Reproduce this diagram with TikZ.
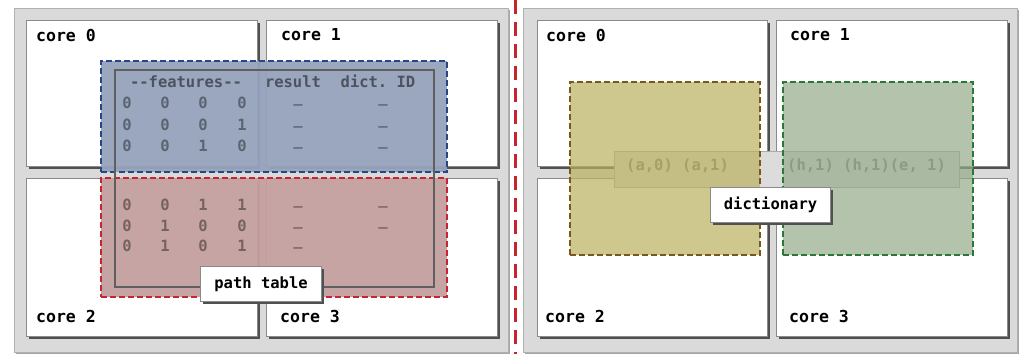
\documentclass[tikz,border=0pt]{standalone}
\usepackage{fontspec}
\setmonofont{DejaVu Sans Mono}
\usetikzlibrary{shadows}

\definecolor{panelfill}{RGB}{218,218,218}
\definecolor{paneldraw}{RGB}{176,176,176}
\definecolor{coredraw}{RGB}{138,138,138}
\definecolor{shadowc}{RGB}{80,80,80}
\definecolor{bluefill}{RGB}{149,163,187}
\definecolor{blueline}{RGB}{40,70,135}
\definecolor{redfill}{RGB}{197,160,160}
\definecolor{redline}{RGB}{200,35,50}
\definecolor{yelfill}{RGB}{186,176,95}
\definecolor{yelline}{RGB}{120,88,30}
\definecolor{grnfill}{RGB}{149,171,138}
\definecolor{grnline}{RGB}{40,120,55}
\definecolor{divider}{RGB}{198,36,46}
\definecolor{tabline}{RGB}{95,95,95}
\definecolor{barfill}{RGB}{220,220,220}
\definecolor{bardraw}{RGB}{170,170,170}
\definecolor{bartextc}{RGB}{120,120,120}

\tikzset{
  mono/.style={font=\ttfamily\bfseries\fontsize{15.5}{16}\selectfont, inner sep=0pt},
  panel/.style={draw=paneldraw, fill=panelfill, line width=1.2pt, anchor=north west, inner sep=0pt,
    drop shadow={shadow xshift=1.5pt, shadow yshift=-1.5pt, fill=black!35, opacity=1}},
  corebox/.style={draw=coredraw, fill=white, line width=1.2pt, anchor=north west, inner sep=0pt,
    minimum width=231pt, minimum height=146pt,
    drop shadow={shadow xshift=2.5pt, shadow yshift=-2.5pt, fill=shadowc, opacity=1}},
  corelabel/.style={font=\ttfamily\bfseries\fontsize{16.5}{17}\selectfont, inner sep=0pt, anchor=west, text=black},
  overlay/.style={dashed, dash pattern=on 6pt off 3pt, line width=1.5pt, anchor=north west, inner sep=0pt},
  cell/.style={mono, anchor=base, text=black, text opacity=0.4},
  tag/.style={draw=coredraw, fill=white, line width=1.1pt, inner sep=0pt,
    font=\ttfamily\bfseries\fontsize{15.5}{16}\selectfont,
    drop shadow={shadow xshift=2pt, shadow yshift=-2pt, fill=shadowc, opacity=1}},
  barbox/.style={draw=bardraw, fill=barfill, line width=1.2pt, anchor=north west, inner sep=0pt},
  bartext/.style={mono, anchor=west, text=bartextc},
}

\begin{document}
\begin{tikzpicture}[x=1pt, y=-1pt]
\useasboundingbox (0,0) rectangle (1021,354);

% ---------------- left panel: path table ----------------
\node[panel, minimum width=494pt, minimum height=344pt] (LP) at (14,8) {};
\node[corebox] (L0) at (26,20) {};
\node[corebox] (L1) at (266,20) {};
\node[corebox, minimum height=158pt] (L2) at (26,178) {};
\node[corebox, minimum height=158pt] (L3) at (266,178) {};
\node[corelabel] (L0t) at (36,35) {core 0};
\node[corelabel] (L1t) at (281,35) {core 1};
\node[corelabel] (L2t) at (36,316) {core 2};
\node[corelabel] (L3t) at (280,316) {core 3};

\node[overlay, draw=blueline, fill=bluefill, fill opacity=0.95, minimum width=346pt, minimum height=111pt] (blueregion) at (100,60) {};
\node[overlay, draw=redline, fill=redfill, fill opacity=0.95, minimum width=346pt, minimum height=119pt] (redregion) at (100,177) {};

\node[draw=tabline, line width=1.5pt, anchor=north west, inner sep=0pt,
      minimum width=319pt, minimum height=217pt] (table) at (114,69) {};

% header
\node[cell, text opacity=0.5] (hfeat) at (186,87) {--features--};
\node[cell, text opacity=0.5] (hres) at (293,87) {result};
\node[cell, text opacity=0.5] (hdict) at (378,87) {dict. ID};

% rows of the table
\foreach \r/\y/\a/\b/\c/\d/\e in {1/108/0/0/0/0/\_, 2/130/0/0/0/1/\_, 3/151/0/0/1/0/\_,
                                  4/210/0/0/1/1/\_, 5/231/0/1/0/0/\_, 6/251/0/1/0/1/{}} {
  \node[cell] (r\r c1) at (127,\y) {\a};
  \node[cell] (r\r c2) at (165,\y) {\b};
  \node[cell] (r\r c3) at (203,\y) {\c};
  \node[cell] (r\r c4) at (242,\y) {\d};
  \node[cell] (r\r c5) at (298,\y-6) {\_};
  \node[cell] (r\r c6) at (383,\y-6) {\e};
}

\node[tag, anchor=north west, minimum width=121pt, minimum height=35pt] (pathtable) at (200,266) {path table};

% ---------------- divider ----------------
\coordinate (divtop) at (515,0);
\coordinate (divbot) at (515,354);
\draw[divider, line width=3pt, dash pattern=on 14pt off 8pt] (divtop) -- (divbot);

% ---------------- right panel: dictionary ----------------
\node[panel, minimum width=494pt, minimum height=344pt] (RP) at (523,8) {};
\node[corebox, minimum width=230pt] (R0) at (537,20) {};
\node[corebox, minimum width=231pt] (R1) at (776,20) {};
\node[corebox, minimum width=230pt, minimum height=158pt] (R2) at (537,178) {};
\node[corebox, minimum width=231pt, minimum height=158pt] (R3) at (776,178) {};
\node[corelabel] (R0t) at (546,35) {core 0};
\node[corelabel] (R1t) at (790,35) {core 1};
\node[corelabel] (R2t) at (545,316) {core 2};
\node[corelabel] (R3t) at (789,316) {core 3};

% dictionary entries, seen through the two tinted regions
\node[barbox, minimum width=345pt, minimum height=36pt] (dictbar) at (614,151) {};
\node[bartext] (dleft) at (626,166) {(a,0) (a,1)};
\node[bartext] (dright) at (787,166) {(h,1) (h,1)(e, 1)};

\node[overlay, draw=yelline, fill=yelfill, fill opacity=0.7, minimum width=190pt, minimum height=173pt] (yelregion) at (569,81) {};
\node[overlay, draw=grnline, fill=grnfill, fill opacity=0.7, minimum width=190pt, minimum height=173pt] (grnregion) at (782,81) {};

\node[tag, anchor=north west, minimum width=120pt, minimum height=35pt] (dictionary) at (710,187) {dictionary};
\end{tikzpicture}
\end{document}
